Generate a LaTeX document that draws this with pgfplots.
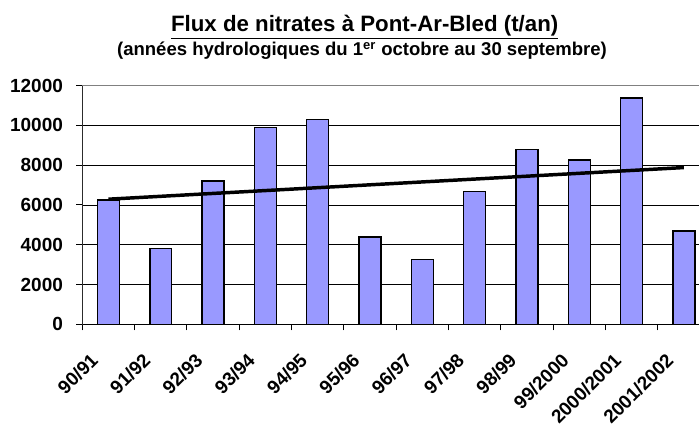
\documentclass[border=0pt]{standalone}
\usepackage{fontspec}
\setmainfont{Liberation Sans}
\usepackage{pgfplots}
\pgfplotsset{compat=1.18}
\definecolor{BAR}{HTML}{9999FF}
\definecolor{FRAME}{HTML}{808080}

\begin{document}
\begin{tikzpicture}
% page = 699 x 427 px, 1px = 0.75pt
\useasboundingbox (0,0) rectangle (524.25pt,320.25pt);
\clip (0,0) rectangle (524.25pt,320.25pt);
\node[anchor=base, font=\fontsize{16.7}{18}\selectfont\bfseries] at (273.5pt,296.25pt)
  {\underline{Flux de nitrates à Pont-Ar-Bled (t/an)}};
\node[anchor=base, font=\fontsize{13.9}{15}\selectfont\bfseries] at (271.5pt,278.25pt)
  {(années hydrologiques du 1\textsuperscript{er} octobre au 30 septembre)};
\begin{axis}[
  at={(61.73pt,77.03pt)}, anchor=south west,
  scale only axis, width=470.8pt, height=179pt,
  xmin=-0.5, xmax=11.5, ymin=0, ymax=12000,
  ytick={0,2000,...,12000}, scaled y ticks=false,
  xtick={-0.5,0.5,...,11.5}, xticklabels={},
  extra x ticks={0,1,...,11},
  extra x tick labels={90/91,91/92,92/93,93/94,94/95,95/96,96/97,97/98,98/99,99/2000,2000/2001,2001/2002},
  extra x tick style={major tick length=0pt, grid=none},
  xtick pos=bottom, ytick pos=left,
  ymajorgrids, grid style={black, line width=0.6pt},
  axis line style={FRAME, line width=0.75pt},
  tick align=outside, major tick length=4.5pt,
  tick style={black, line width=0.75pt},
  yticklabel style={font=\fontsize{14.25}{16}\selectfont\bfseries, xshift=-6.5pt,
    /pgf/number format/assume math mode=true, /pgf/number format/1000 sep={}},
  xticklabel style={font=\fontsize{14.2}{16}\selectfont\bfseries,
    xshift=-8pt, yshift=-22pt, rotate=45, anchor=east},
]
\addplot[ybar, bar width=0.42, fill=BAR, draw=black, line width=1.1pt] coordinates {
  (0,6250) (1,3800) (2,7200) (3,9900) (4,10300) (5,4400)
  (6,3250) (7,6670) (8,8800) (9,8270) (10,11370) (11,4700)
};
\addplot[black, line width=2.6pt, sharp plot, mark=none] coordinates {(0,6290) (11,7880)};
\draw[black, line width=0.75pt] (axis cs:-0.5,12000) -- (axis cs:-0.5,0) -- (axis cs:11.5,0);
\end{axis}
\end{tikzpicture}
\end{document}
